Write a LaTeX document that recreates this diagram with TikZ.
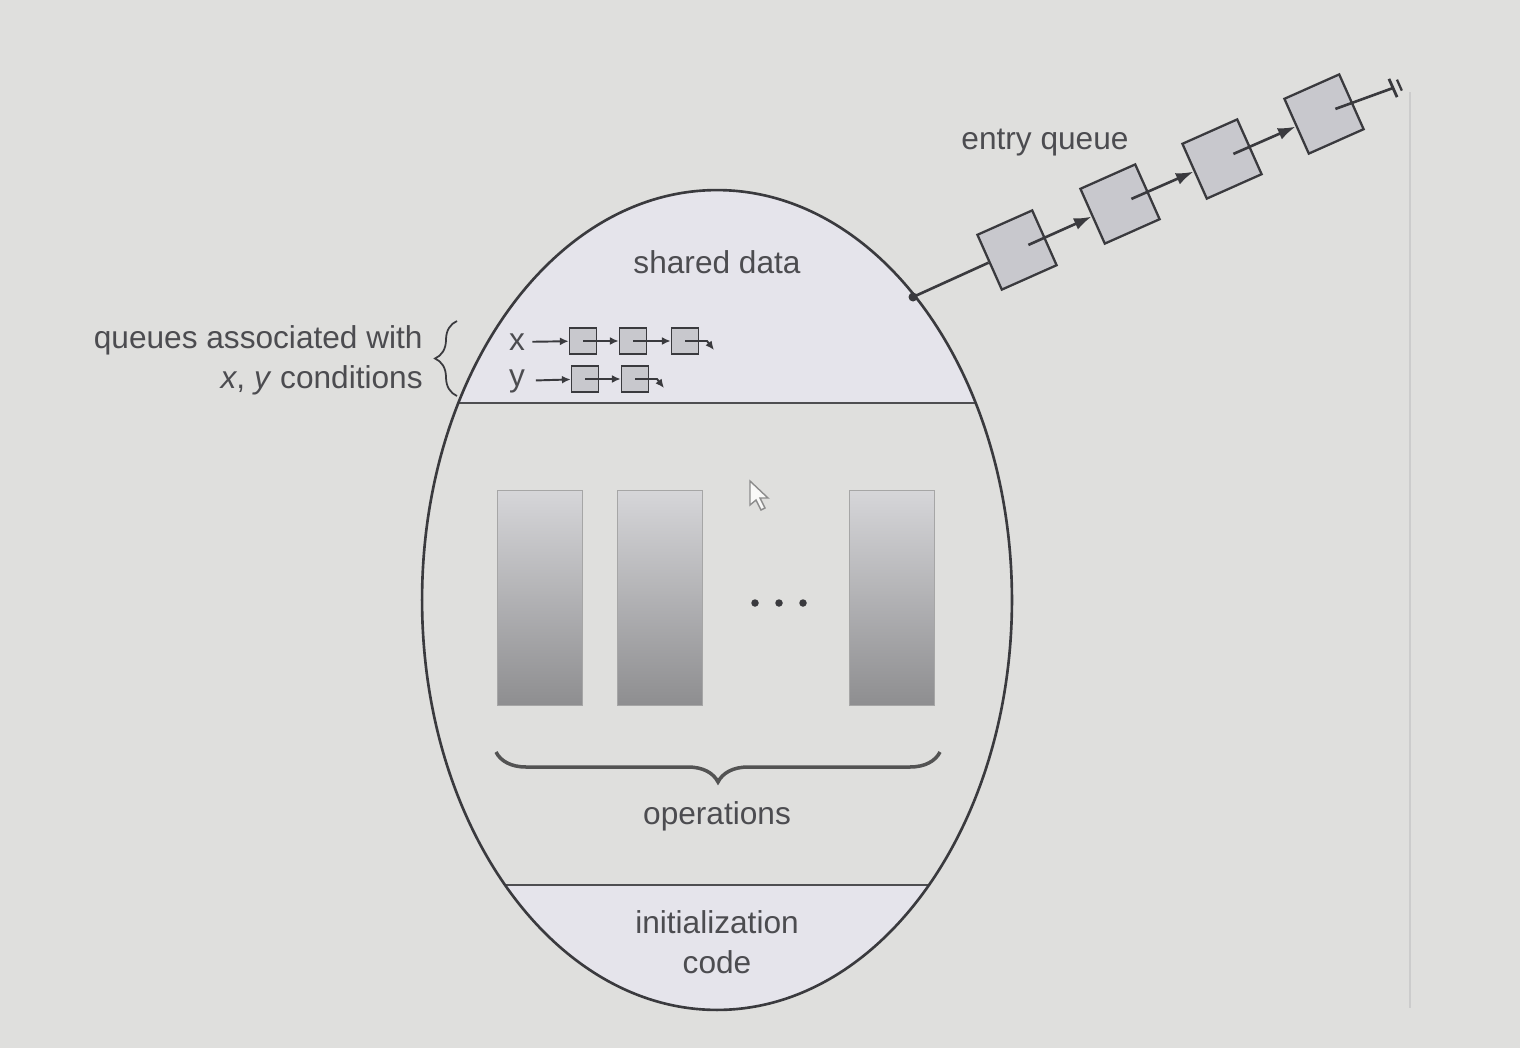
\documentclass[tikz,border=0pt]{standalone}
\usepackage{fontspec}
\setsansfont{Liberation Sans}
\usetikzlibrary{arrows.meta,positioning,calc,decorations.pathreplacing}
\definecolor{paper}{RGB}{223,223,221}
\definecolor{ink}{RGB}{58,58,62}
\definecolor{muted}{RGB}{76,76,80}
\definecolor{region}{RGB}{229,228,235}
\definecolor{boxfill}{RGB}{200,200,205}
\definecolor{optop}{RGB}{214,214,217}
\definecolor{opbottom}{RGB}{142,142,144}
\definecolor{rule}{RGB}{204,204,204}
\tikzset{
  font=\sffamily,
  descText/.style={font=\sffamily\fontsize{18}{22.7}\selectfont, text=muted, inner sep=0pt},
  queueBox/.style={draw=ink, line width=0.9pt, fill=boxfill, minimum width=0.54cm,
    minimum height=0.52cm, inner sep=0pt},
  entryBox/.style={draw=ink, line width=1.3pt, fill=boxfill, minimum size=1.2cm,
    inner sep=0pt, rotate=24},
  opBox/.style={draw=gray!70, line width=0.3pt, top color=optop, bottom color=opbottom,
    minimum width=1.7cm, minimum height=4.3cm, inner sep=0pt},
  smallArrow/.style={-{Latex[length=5pt,width=4.5pt]}, line width=1.1pt, draw=ink},
  entryArrow/.style={-{Latex[length=10pt,width=7pt]}, line width=1.5pt, draw=ink},
  braceLine/.style={decorate, decoration={brace, amplitude=#1}},
  sepLine/.style={draw=ink!90, line width=1.6pt}
}

\begin{document}
\begin{tikzpicture}[x=0.02cm,y=-0.02cm]

% Background
\fill[paper] (0,0) rectangle (1520,1048);
\draw[rule, line width=0.8pt] (1410,92) -- (1410,1008);

% Monitor body
\begin{scope}
  \clip (717,600) ellipse [x radius=5.9cm, y radius=8.2cm];
  \fill[region] (400,170) rectangle (1040,403);
  \fill[region] (400,885) rectangle (1040,1030);
  \draw[sepLine] (400,403) -- (1040,403);
  \draw[sepLine] (400,885) -- (1040,885);
\end{scope}
\draw[ink, line width=1.5pt] (717,600) ellipse [x radius=5.9cm, y radius=8.2cm];

\node[descText] (shared) at (717,262) {shared data};
\node[descText] (ops) at (717,816) {operations};
\node[descText, align=center] (init) at (717,942) {initialization\\code};

% Condition queues
\node[descText, align=right, anchor=east] (condLabel) at (423,360)
  {queues associated with\\\textit{x}, \textit{y} conditions};
\draw[braceLine=0.44cm, ink, line width=1pt] (457,396) -- (457,321);

\node[descText] (xlab) at (517,342) {x};
\node[queueBox] (xq1) at (583,341) {};
\node[queueBox] (xq2) at (633,341) {};
\node[queueBox] (xq3) at (685,341) {};
\coordinate (xnil) at (714,350);
\draw[smallArrow, shorten <=4pt] (xlab) -- (xq1);
\draw[smallArrow] (xq1.center) -- (xq2);
\draw[smallArrow] (xq2.center) -- (xq3);
\draw[smallArrow] (xq3.center) -- ++(22,0) -- (xnil);

\node[descText] (ylab) at (517,381) {y};
\node[queueBox] (yq1) at (585,379) {};
\node[queueBox] (yq2) at (635,379) {};
\coordinate (ynil) at (664,388);
\draw[smallArrow, shorten <=6pt] (ylab) -- (yq1);
\draw[smallArrow] (yq1.center) -- (yq2);
\draw[smallArrow] (yq2.center) -- ++(22,0) -- (ynil);

% Operations
\node[opBox] (op1) at (539.5,597.5) {};
\node[opBox] (op2) at (660,597.5) {};
\node[opBox] (opn) at (891.5,597.5) {};
\coordinate (dots) at (779,603);
\foreach \dx in {-24,0,24}
  \fill[ink] ($(dots)+(\dx,0)$) circle (0.075cm);
\draw[braceLine=0.6cm, gray!65!black, line width=2pt] (940,752) -- (496,752);

% Pointer
\filldraw[fill=white!80!paper, draw=gray!90, line width=0.8pt]
  (750,481) -- (750,505) -- (756,500) -- (761,510) -- (765,508) -- (760,498) -- (768,498) -- cycle;

% Entry queue
\node[descText] (entryLabel) at (1045,143) {entry queue};
\coordinate (eqStart) at (913,297);
\node[entryBox] (eq1) at (1017,250) {};
\node[entryBox] (eq2) at (1120,204) {};
\node[entryBox] (eq3) at (1222,159) {};
\node[entryBox] (eq4) at (1324,114) {};
\coordinate (eqEnd) at (1393,88);
\fill[ink] (eqStart) circle (0.09cm);
\draw[ink, line width=1.5pt] (eqStart) -- (eq1.west);
\draw[entryArrow] ($(eq1.center)!0.4!(eq1.east)$) -- (eq2.west);
\draw[entryArrow] ($(eq2.center)!0.4!(eq2.east)$) -- (eq3.west);
\draw[entryArrow] ($(eq3.center)!0.4!(eq3.east)$) -- (eq4.west);
\draw[ink, line width=1.5pt] ($(eq4.center)!0.4!(eq4.east)$) -- (eqEnd);
\begin{scope}[shift={(eqEnd)}, rotate=24]
  \draw[ink, line width=1.6pt] (0,-10) -- (0,10);
  \draw[ink, line width=1.3pt] (7,-6) -- (7,6);
\end{scope}

\end{tikzpicture}
\end{document}
